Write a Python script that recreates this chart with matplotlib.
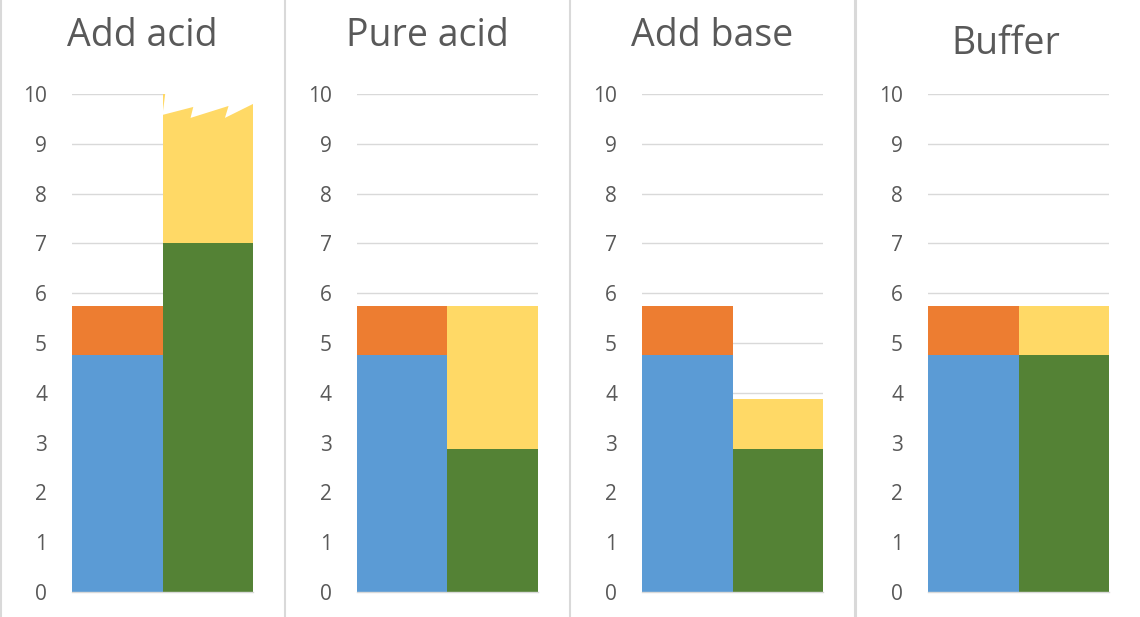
import matplotlib.pyplot as plt
from matplotlib.patches import Polygon
from matplotlib.lines import Line2D

plt.rcParams['font.family'] = ['Open Sans', 'DejaVu Sans']

# data
titles = ["Add acid", "Pure acid", "Add base", "Buffer"]
blue = [4.75, 4.75, 4.75, 4.75]
orange = [1.0, 1.0, 1.0, 1.0]
green = [7.0, 2.87, 2.87, 4.75]
yellow = [3.0, 2.88, 1.0, 1.0]
broken = [True, False, False, False]  # yellow bar runs off the top
yticks = list(range(0, 11))

c_blue, c_orange = "#5B9BD5", "#ED7D31"
c_green, c_yellow = "#548235", "#FFD966"
c_text, c_grid = "#595959", "#D9D9D9"

W, H = 1140, 617
fig = plt.figure(figsize=(W / 100, H / 100), dpi=100)

ax_left = [72, 357, 642, 928]
ax_w = 181
title_x = [142, 427, 712, 1006]
title_base = [46, 46, 46, 54]
seps = [1, 285, 570, 855]
sep_w = [1.5, 1.5, 1.5, 2.2]

for i in range(4):
    ax = fig.add_axes([ax_left[i] / W, (H - 592) / H, ax_w / W, 498 / H])
    ax.bar(0, blue[i], width=1, color=c_blue, zorder=2)
    ax.bar(0, orange[i], bottom=blue[i], width=1, color=c_orange, zorder=2)
    ax.bar(1, green[i], width=1, color=c_green, zorder=2)
    ax.bar(1, yellow[i], bottom=green[i], width=1, color=c_yellow, zorder=2)
    if broken[i]:
        # zigzag "break" cut into the top of the yellow bar
        zz = [(0.5, 9.58), (0.84, 9.74), (0.81, 9.52), (1.23, 9.76),
              (1.19, 9.52), (1.5, 9.8), (1.5, 10.0), (0.53, 10.0)]
        ax.add_patch(Polygon(zz, closed=True, facecolor="white",
                             edgecolor="none", zorder=3))
    ax.set_xlim(-0.5, 1.5)
    ax.set_ylim(0, 10)
    ax.set_yticks(yticks)
    ax.set_xticks([])
    ax.grid(axis="y", color=c_grid, linewidth=1.0, zorder=0)
    ax.set_axisbelow(True)
    for s in ax.spines.values():
        s.set_visible(False)
    ax.axhline(0, color=c_grid, linewidth=1.0, zorder=4, clip_on=False)
    ax.tick_params(axis="y", length=0, pad=18, labelsize=15, labelcolor=c_text)
    for t in ax.get_yticklabels():
        t.set_clip_on(False)
    fig.text(title_x[i] / W, (H - title_base[i]) / H, titles[i],
             ha="center", va="baseline", fontsize=27, color=c_text)
    fig.add_artist(Line2D([seps[i] / W, seps[i] / W], [0, 1],
                          color=c_grid, linewidth=sep_w[i]))

fig.savefig("out.png", dpi=100)
